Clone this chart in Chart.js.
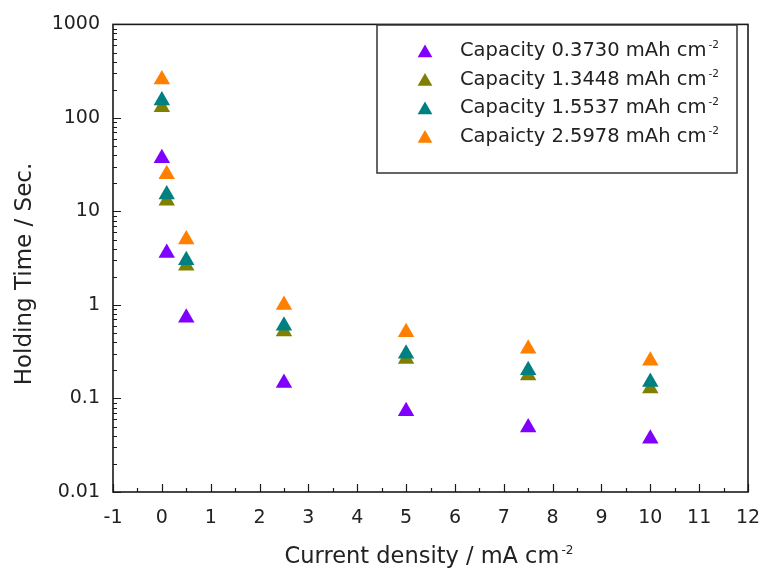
<!DOCTYPE html>
<html>
<head>
<meta charset="utf-8">
<script src="https://cdn.jsdelivr.net/npm/chart.js@4"></script>
<style>
  body { margin: 0; background: #fff; }
  #wrap { width: 761px; height: 571px; }
</style>
</head>
<body>
<div id="wrap"><canvas id="holdChart" width="761" height="571"></canvas></div>
<script>
// values
const currentDensity = [0, 0.1, 0.5, 2.5, 5, 7.5, 10];
const cap03730 = [37, 3.6, 0.73, 0.146, 0.073, 0.049, 0.037];
const cap13448 = [130, 13, 2.62, 0.52, 0.265, 0.176, 0.128];
const cap15537 = [154, 15.2, 3.0, 0.60, 0.30, 0.20, 0.15];
const cap25978 = [258, 25, 5.0, 1.0, 0.51, 0.34, 0.253];

const seriesNames = ['Capacity 0.3730 mAh cm', 'Capacity 1.3448 mAh cm', 'Capacity 1.5537 mAh cm', 'Capaicty 2.5978 mAh cm'];
const seriesColors = ['#8000ff', '#808000', '#008080', '#ff8000'];
const yTickValues = [0.01, 0.1, 1, 10, 100, 1000];
const yTickLabels = ['0.01', '0.1', '1', '10', '100', '1000'];

const FONT = "'DejaVu Sans', sans-serif";
const TEXT = '#222';

function toPoints(vals) {
    return currentDensity.map((x, i) => ({ x: x, y: vals[i] }));
}

// text with a small raised "-2"
function drawWithSup(ctx, text, sup, x, y, size, supSize, align) {
    ctx.font = size + 'px ' + FONT;
    const w1 = ctx.measureText(text).width;
    ctx.font = supSize + 'px ' + FONT;
    const w2 = ctx.measureText(sup).width;
    let start = x;
    if (align === 'center') start = x - (w1 + 2 + w2) / 2;
    ctx.textAlign = 'left';
    ctx.textBaseline = 'alphabetic';
    ctx.font = size + 'px ' + FONT;
    ctx.fillText(text, start, y);
    ctx.font = supSize + 'px ' + FONT;
    ctx.fillText(sup, start + w1 + 2, y - size * 0.4);
}

// box frame, inward ticks on the left and bottom axes, axis titles
const frameTicks = {
    id: 'frameTicks',
    afterDraw(chart) {
        const { ctx, chartArea: a, scales } = chart;
        const xs = scales.x, ys = scales.y;
        ctx.save();
        ctx.strokeStyle = '#1a1a1a';
        ctx.lineWidth = 1.2;
        ctx.beginPath();
        for (let i = 0; i <= 26; i++) {
            const v = -1 + i * 0.5;
            const px = Math.round(xs.getPixelForValue(v)) + 0.5;
            const len = i % 2 === 0 ? 8 : 4;
            ctx.moveTo(px, a.bottom);
            ctx.lineTo(px, a.bottom - len);
        }
        for (let k = -2; k <= 3; k++) {
            for (let m = 1; m <= 9; m++) {
                if (k === 3 && m > 1) break;
                const py = Math.round(ys.getPixelForValue(m * Math.pow(10, k))) + 0.5;
                const len = m === 1 ? 8 : 4;
                ctx.moveTo(a.left, py);
                ctx.lineTo(a.left + len, py);
            }
        }
        ctx.stroke();
        ctx.lineWidth = 1.6;
        ctx.strokeRect(a.left, a.top, a.right - a.left, a.bottom - a.top);

        ctx.fillStyle = TEXT;
        drawWithSup(ctx, 'Current density / mA cm', '-2', 429, 563, 22.5, 12, 'center');

        ctx.save();
        ctx.translate(25, 274);
        ctx.rotate(-Math.PI / 2);
        ctx.font = '23px ' + FONT;
        ctx.textAlign = 'center';
        ctx.textBaseline = 'middle';
        ctx.fillText('Holding Time / Sec.', 0, 0);
        ctx.restore();
        ctx.restore();
    }
};

// legend box in the upper right of the plot
const boxLegend = {
    id: 'boxLegend',
    afterDraw(chart) {
        const ctx = chart.ctx;
        const bx = 377, by = 25, bw = 360, bh = 148;
        ctx.save();
        ctx.fillStyle = '#fff';
        ctx.fillRect(bx, by, bw, bh);
        ctx.strokeStyle = '#333';
        ctx.lineWidth = 1.5;
        ctx.strokeRect(bx, by, bw, bh);
        chart.data.datasets.forEach((ds, i) => {
            const base = 56 + i * 28.5;
            ctx.fillStyle = ds.backgroundColor;
            Chart.helpers.drawPoint(ctx, { pointStyle: 'triangle', radius: 8.5, rotation: 0, borderWidth: 0 }, 425, base - 3);
            ctx.fillStyle = TEXT;
            drawWithSup(ctx, seriesNames[i], '-2', 460, base, 19.5, 10.5, 'left');
        });
        ctx.restore();
    }
};

const datasets = [cap03730, cap13448, cap15537, cap25978].map((vals, i) => ({
    label: seriesNames[i] + '-2',
    data: toPoints(vals),
    backgroundColor: seriesColors[i],
    borderColor: seriesColors[i],
    borderWidth: 0,
    pointStyle: 'triangle',
    pointRadius: 9.5,
    pointHoverRadius: 9.5,
    order: [4, 3, 2, 1][i]
}));

new Chart(document.getElementById('holdChart'), {
    type: 'scatter',
    data: { datasets: datasets },
    options: {
        responsive: false,
        animation: false,
        layout: { padding: { left: 0, top: 23, right: 0, bottom: 0 } },
        plugins: {
            legend: { display: false },
            tooltip: { enabled: false }
        },
        scales: {
            x: {
                type: 'linear',
                min: -1,
                max: 12,
                grid: { display: false, drawTicks: false },
                border: { display: false },
                ticks: {
                    stepSize: 1,
                    autoSkip: false,
                    maxRotation: 0,
                    padding: 15,
                    color: TEXT,
                    font: { family: FONT, size: 19 }
                },
                afterFit(scale) {
                    scale.height = 79;
                    // only half of the "12" label hangs past the plot edge
                    scale.paddingRight = 13;
                }
            },
            y: {
                type: 'logarithmic',
                min: 0.01,
                max: 1000,
                grid: { display: false, drawTicks: false },
                border: { display: false },
                afterBuildTicks(scale) {
                    scale.ticks = yTickValues.map(v => ({ value: v }));
                },
                ticks: {
                    padding: 13,
                    color: TEXT,
                    font: { family: FONT, size: 19 },
                    callback: (value, index) => yTickLabels[index]
                },
                afterFit(scale) { scale.width = 113; }
            }
        }
    },
    plugins: [frameTicks, boxLegend]
});
</script>
</body>
</html>
